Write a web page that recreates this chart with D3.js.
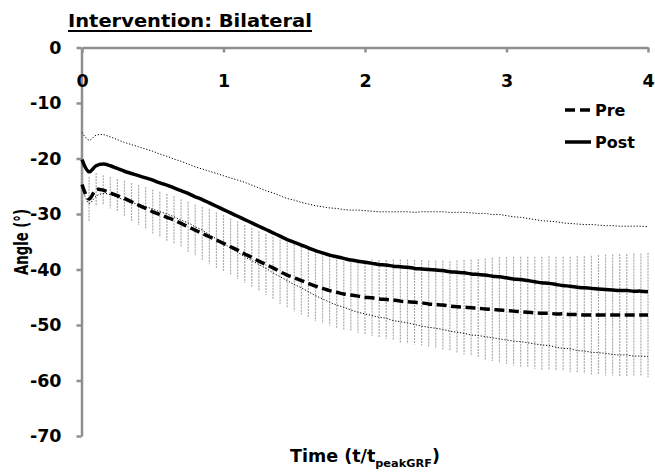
<!DOCTYPE html>
<html>
<head>
<meta charset="utf-8">
<script src="https://cdn.jsdelivr.net/npm/d3@7"></script>
<style>
html,body{margin:0;padding:0;background:#fff;}
svg{display:block;}
text{font-family:"DejaVu Sans",sans-serif;font-weight:bold;fill:#000;}
</style>
</head>
<body>
<svg id="chart" width="655" height="472"></svg>
<script>
const timeValues = [0,0.05,0.1,0.15,0.2,0.25,0.3,0.35,0.4,0.45,
 0.5,0.55,0.6,0.65,0.7,0.75,0.8,0.85,0.9,0.95,
 1,1.05,1.1,1.15,1.2,1.25,1.3,1.35,1.4,1.45,
 1.5,1.55,1.6,1.65,1.7,1.75,1.8,1.85,1.9,1.95,
 2,2.05,2.1,2.15,2.2,2.25,2.3,2.35,2.4,2.45,
 2.5,2.55,2.6,2.65,2.7,2.75,2.8,2.85,2.9,2.95,
 3,3.05,3.1,3.15,3.2,3.25,3.3,3.35,3.4,3.45,
 3.5,3.55,3.6,3.65,3.7,3.75,3.8,3.85,3.9,3.95,4];

const preMean = [-24.7,-27.3,-25.6,-25.7,-26.2,-26.7,-27.2,-27.8,-28.4,-29.0,
 -29.6,-30.1,-30.6,-31.1,-31.7,-32.3,-32.9,-33.5,-34.1,-34.7,
 -35.3,-35.9,-36.5,-37.2,-37.8,-38.5,-39.1,-39.7,-40.4,-41.0,
 -41.5,-42.0,-42.5,-43.0,-43.4,-43.8,-44.1,-44.4,-44.6,-44.8,
 -45.0,-45.1,-45.3,-45.4,-45.5,-45.7,-45.8,-45.9,-46.0,-46.2,
 -46.3,-46.4,-46.6,-46.7,-46.8,-46.9,-47.0,-47.1,-47.2,-47.3,
 -47.4,-47.5,-47.6,-47.7,-47.8,-47.9,-47.9,-48.0,-48.0,-48.1,
 -48.1,-48.2,-48.2,-48.2,-48.2,-48.2,-48.2,-48.2,-48.2,-48.2,-48.2];

const preSD = [3.0,4.0,3.0,2.7,2.8,3.0,3.2,3.4,3.6,3.8,
 4.0,4.1,4.2,4.3,4.35,4.5,4.6,4.8,4.95,5.0,
 5.1,5.1,5.2,5.2,5.3,5.4,5.5,5.6,5.8,5.9,
 6.0,6.1,6.2,6.3,6.3,6.3,6.4,6.4,6.4,6.6,
 6.7,6.9,7.0,7.1,7.3,7.5,7.6,7.6,7.7,7.8,
 7.9,8.0,8.1,8.3,8.5,8.7,8.9,9.1,9.3,9.5,
 9.6,9.8,9.9,10.0,10.1,10.2,10.3,10.3,10.3,10.4,
 10.5,10.6,10.7,10.8,10.9,10.9,11.0,11.0,11.1,11.1,11.2];

const postMean = [-20.2,-22.4,-21.3,-21.0,-21.3,-21.8,-22.3,-22.7,-23.1,-23.5,
 -23.9,-24.4,-24.8,-25.3,-25.8,-26.3,-26.9,-27.4,-28.0,-28.6,
 -29.2,-29.8,-30.4,-31.0,-31.6,-32.2,-32.8,-33.4,-34.0,-34.6,
 -35.1,-35.6,-36.1,-36.6,-37.0,-37.4,-37.7,-38.0,-38.3,-38.5,
 -38.7,-38.9,-39.1,-39.2,-39.4,-39.5,-39.6,-39.8,-39.9,-40.0,
 -40.1,-40.2,-40.4,-40.5,-40.6,-40.8,-40.9,-41.0,-41.2,-41.3,
 -41.5,-41.7,-41.8,-42.0,-42.2,-42.4,-42.5,-42.7,-42.9,-43.0,
 -43.2,-43.3,-43.4,-43.5,-43.6,-43.7,-43.8,-43.8,-43.9,-43.9,-44.0];

const postSD = [4.9,5.7,5.5,5.3,5.2,5.2,5.2,5.2,5.2,5.2,
 5.2,5.2,5.2,5.2,5.3,5.3,5.4,5.5,5.7,5.9,
 6.1,6.3,6.5,6.7,6.8,6.9,7.0,7.2,7.3,7.4,
 7.6,7.7,7.9,8.1,8.3,8.5,8.7,8.8,9.0,9.2,
 9.3,9.4,9.5,9.6,9.8,9.9,10.0,10.1,10.3,10.4,
 10.5,10.6,10.7,10.8,10.9,11.0,11.0,11.1,11.1,11.2,
 11.2,11.2,11.2,11.2,11.2,11.2,11.2,11.3,11.3,11.3,
 11.4,11.4,11.5,11.5,11.5,11.6,11.6,11.6,11.7,11.7,11.7];

const xTicks = [0,1,2,3,4];
const yTicks = [0,-10,-20,-30,-40,-50,-60,-70];
const seriesNames = ["Pre","Post"];
const titleText = "Intervention: Bilateral";
const yTitle = "Angle (°)";

const svg = d3.select("#chart");
const x = d3.scaleLinear().domain([0,4]).range([82,648]);
const y = d3.scaleLinear().domain([-70,0]).range([436,47.5]);
const axisColor = "#8f8f8f";
const fmt = d => String(d);

// Axes
const gy = svg.append("g").attr("transform","translate(81.5,0)")
  .call(d3.axisLeft(y).tickValues(yTicks).tickSize(5).tickSizeOuter(0).tickPadding(15).tickFormat(fmt));
gy.select(".domain").attr("stroke",axisColor).attr("stroke-width",2.5);
gy.selectAll(".tick line").attr("stroke",axisColor).attr("stroke-width",2.5);
gy.selectAll(".tick text").attr("font-size",17.5).attr("font-family","DejaVu Sans").attr("font-weight","bold").attr("fill","#000");

const gx = svg.append("g").attr("transform","translate(0,47.5)")
  .call(d3.axisBottom(x).tickValues(xTicks).tickSize(5).tickSizeOuter(0).tickFormat(fmt));
gx.select(".domain").attr("stroke",axisColor).attr("stroke-width",2.5);
gx.selectAll(".tick line").attr("stroke",axisColor).attr("stroke-width",2.5);
gx.selectAll(".tick text").attr("font-size",17.5).attr("font-family","DejaVu Sans").attr("font-weight","bold").attr("fill","#000")
  .attr("y",39).attr("dy",0);

// Pre error bars
const idx = d3.range(timeValues.length);
svg.append("g").selectAll("line.err").data(idx).join("line")
  .attr("x1",i=>x(timeValues[i])).attr("x2",i=>x(timeValues[i]))
  .attr("y1",i=>y(preMean[i]+preSD[i])).attr("y2",i=>y(preMean[i]-preSD[i]))
  .attr("stroke","#ababab").attr("stroke-width",1.2).attr("stroke-dasharray","2,1");

const line = d3.line().curve(d3.curveCatmullRom.alpha(0.5));
function pts(vals){ return idx.map(i=>[x(timeValues[i]), y(vals[i])]); }

// Post +/- SD dotted
svg.append("path").attr("d",line(pts(postMean.map((v,i)=>v+postSD[i]))))
  .attr("fill","none").attr("stroke","#000").attr("stroke-width",1).attr("stroke-dasharray","1.2,1.8");
svg.append("path").attr("d",line(pts(postMean.map((v,i)=>v-postSD[i]))))
  .attr("fill","none").attr("stroke","#000").attr("stroke-width",1).attr("stroke-dasharray","1.2,1.8");

// Pre mean dashed
svg.append("path").attr("d",line(pts(preMean)))
  .attr("fill","none").attr("stroke","#000").attr("stroke-width",3.5).attr("stroke-dasharray","10,4.5");
// Post mean solid
svg.append("path").attr("d",line(pts(postMean)))
  .attr("fill","none").attr("stroke","#000").attr("stroke-width",3.5);

// Legend
const legend = svg.append("g");
const legRows = [{name:seriesNames[0], y:110, dash:"10,5"},{name:seriesNames[1], y:142, dash:null}];
legRows.forEach(r=>{
  const ln = legend.append("line").attr("x1",565).attr("x2",591).attr("y1",r.y).attr("y2",r.y)
    .attr("stroke","#000").attr("stroke-width",3.5);
  if(r.dash) ln.attr("stroke-dasharray",r.dash);
  legend.append("text").attr("x",595).attr("y",r.y+6).attr("font-size",16).text(r.name);
});

// Title
const title = svg.append("text").attr("x",0).attr("y",0).attr("font-size",18.5).text(titleText);
const tw = title.node().getComputedTextLength();
title.attr("transform",`translate(68,26.5) scale(${244/tw},1)`);
svg.append("line").attr("x1",68).attr("x2",312).attr("y1",31).attr("y2",31).attr("stroke","#000").attr("stroke-width",1.8);

// Y title
const yt = svg.append("text").attr("text-anchor","middle").attr("font-size",19.5).text(yTitle);
const yw = yt.node().getComputedTextLength();
yt.attr("transform",`translate(28,242) rotate(-90) scale(${66/yw},1)`);

// X title
const xt = svg.append("text").attr("x",0).attr("y",0).attr("font-size",17);
xt.append("tspan").text("Time (t/t");
xt.append("tspan").attr("font-size",11).attr("dy",5).text("peakGRF");
xt.append("tspan").attr("dy",-5).text(")");
const xw = xt.node().getBBox().width;
xt.attr("transform",`translate(290,462) scale(${150/xw},1)`);
</script>
</body>
</html>
